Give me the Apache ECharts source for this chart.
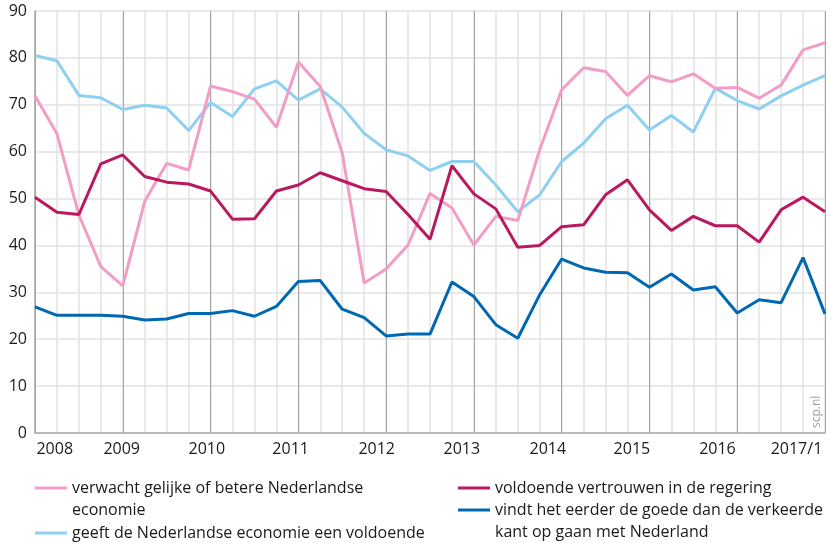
<!DOCTYPE html>
<html>
<head>
<meta charset="utf-8">
<script src="https://cdn.jsdelivr.net/npm/echarts@6/dist/echarts.min.js"></script>
<style>
html,body{margin:0;padding:0;background:#fff;}
#chart{width:832px;height:543px;}
</style>
</head>
<body>
<div id="chart"></div>
<script>
var quarters = ['2008/1','2008/2','2008/3','2008/4','2009/1','2009/2','2009/3','2009/4',
  '2010/1','2010/2','2010/3','2010/4','2011/1','2011/2','2011/3','2011/4',
  '2012/1','2012/2','2012/3','2012/4','2013/1','2013/2','2013/3','2013/4',
  '2014/1','2014/2','2014/3','2014/4','2015/1','2015/2','2015/3','2015/4',
  '2016/1','2016/2','2016/3','2016/4','2017/1'];

var verwachtEconomie = [71.9,63.8,46.5,35.5,31.4,49.4,57.5,56.1,74.0,72.8,71.2,65.2,79.1,73.9,59.7,32.0,
  35.0,40.1,51.1,48.0,40.1,46.2,45.3,60.4,73.2,77.9,77.1,72.0,76.2,74.9,76.6,73.5,73.7,71.4,74.2,81.7,83.2];
var geeftVoldoende = [80.5,79.4,72.0,71.5,69.0,69.9,69.3,64.5,70.5,67.5,73.4,75.1,71.0,73.4,69.5,63.9,
  60.4,59.1,56.0,57.9,57.9,52.9,47.2,50.8,57.9,61.8,67.0,69.9,64.6,67.7,64.2,73.5,70.9,69.1,71.9,74.2,76.2];
var vertrouwenRegering = [50.3,47.1,46.6,57.4,59.3,54.7,53.5,53.1,51.6,45.6,45.7,51.6,52.9,55.5,53.8,52.1,
  51.5,46.6,41.3,57.0,51.0,47.8,39.6,40.0,44.0,44.4,50.8,54.0,47.6,43.2,46.2,44.2,44.2,40.7,47.6,50.3,47.2];
var goedeKant = [26.9,25.1,25.1,25.1,24.9,24.1,24.3,25.5,25.5,26.1,24.9,27.0,32.3,32.5,26.4,24.6,
  20.7,21.1,21.1,32.2,29.1,23.1,20.2,29.5,37.1,35.2,34.3,34.2,31.1,33.9,30.5,31.2,25.6,28.4,27.8,37.4,25.4];

var yearLabels = ['2008','2009','2010','2011','2012','2013','2014','2015','2016','2017/1'];
var yearLabelPos = [0.9,3.95,7.83,11.65,15.57,19.45,23.37,27.2,31.1,34.7];

var names = [
  'verwacht gelijke of betere Nederlandse\neconomie',
  'geeft de Nederlandse economie een voldoende',
  'voldoende vertrouwen in de regering',
  'vindt het eerder de goede dan de verkeerde\nkant op gaan met Nederland'
];
var colors = ['#f29dc5', '#8ed0f2', '#b8195f', '#0068b1'];

var FONT = '"Open Sans", "Noto Sans", sans-serif';
var chart = echarts.init(document.getElementById('chart'), null, {renderer: 'canvas'});

function legendOf(i, left, top) {
  var multi = names[i].indexOf('\n') >= 0;
  return {
    data: [names[i]],
    left: left, top: top, padding: 0,
    orient: 'vertical',
    icon: 'rect', itemWidth: 32, itemHeight: 3,
    selectedMode: false,
    formatter: function (n) { return multi ? '\n' + n : n; },
    textStyle: {fontFamily: FONT, fontSize: 16, color: '#1a1a1a', lineHeight: 22.5}
  };
}

var option = {
  animation: false,
  backgroundColor: '#fff',
  grid: {left: 35, right: 7, top: 11, bottom: 110, containLabel: false},
  legend: [
    legendOf(0, 35, 454.25),
    legendOf(1, 35, 521.75),
    legendOf(2, 458, 476.75),
    legendOf(3, 458, 476.25)
  ],
  xAxis: [
    {
      type: 'category', data: quarters, boundaryGap: false,
      axisLine: {show: true, lineStyle: {color: '#a9a9a9', width: 1.5}},
      axisTick: {show: false}, axisLabel: {show: false},
      splitLine: {show: true, interval: 0, lineStyle: {color: '#e2e2e2', width: 1.5}}
    },
    {
      type: 'category', data: quarters, boundaryGap: false,
      axisLine: {show: false}, axisTick: {show: false}, axisLabel: {show: false},
      splitLine: {show: true, interval: 3, lineStyle: {color: '#a6a6a6', width: 1}}
    },
    {
      type: 'value', min: 0, max: 36, position: 'bottom',
      axisLine: {show: false}, axisTick: {show: false}, splitLine: {show: false},
      axisLabel: {
        show: true, customValues: yearLabelPos, margin: 8,
        fontFamily: FONT, fontSize: 16, color: '#1a1a1a',
        showMinLabel: true, showMaxLabel: true, hideOverlap: false,
        formatter: function (v) {
          var k = yearLabelPos.indexOf(v);
          return k >= 0 ? yearLabels[k] : '';
        }
      }
    }
  ],
  yAxis: {
    type: 'value', min: 0, max: 90, interval: 10,
    axisLine: {show: true, lineStyle: {color: '#a9a9a9', width: 1.5}},
    axisTick: {show: false},
    axisLabel: {margin: 8, fontFamily: FONT, fontSize: 16, color: '#1a1a1a'},
    splitLine: {show: true, lineStyle: {color: '#e2e2e2', width: 1.5}}
  },
  graphic: [{
    type: 'text', x: 811, y: 428, rotation: Math.PI / 2,
    style: {text: 'scp.nl', fill: '#a0a0a0', font: '12px ' + FONT, textAlign: 'left', textVerticalAlign: 'top'}
  }],
  series: [
    {name: names[1], data: geeftVoldoende, color: colors[1], z: 2},
    {name: names[0], data: verwachtEconomie, color: colors[0], z: 3},
    {name: names[2], data: vertrouwenRegering, color: colors[2], z: 4},
    {name: names[3], data: goedeKant, color: colors[3], z: 5}
  ].map(function (s) {
    return {
      type: 'line', name: s.name, data: s.data, z: s.z,
      xAxisIndex: 0, yAxisIndex: 0,
      showSymbol: false, symbol: 'none',
      itemStyle: {color: s.color},
      lineStyle: {color: s.color, width: 3},
      emphasis: {disabled: true}
    };
  })
};
chart.setOption(option);
</script>
</body>
</html>
